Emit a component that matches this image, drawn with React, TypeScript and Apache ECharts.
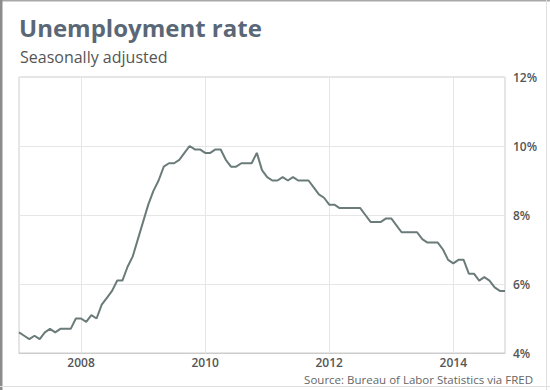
import React, { useEffect, useRef } from "react";
import * as echarts from "echarts";

const years = [2007, 2008, 2009, 2010, 2011, 2012, 2013, 2014];
const rate2007 = [4.6, 4.5, 4.4, 4.5, 4.4, 4.6, 4.7, 4.6, 4.7, 4.7, 4.7, 5.0];
const rate2008 = [5.0, 4.9, 5.1, 5.0, 5.4, 5.6, 5.8, 6.1, 6.1, 6.5, 6.8, 7.3];
const rate2009 = [7.8, 8.3, 8.7, 9.0, 9.4, 9.5, 9.5, 9.6, 9.8, 10.0, 9.9, 9.9];
const rate2010 = [9.8, 9.8, 9.9, 9.9, 9.6, 9.4, 9.4, 9.5, 9.5, 9.5, 9.8, 9.3];
const rate2011 = [9.1, 9.0, 9.0, 9.1, 9.0, 9.1, 9.0, 9.0, 9.0, 8.8, 8.6, 8.5];
const rate2012 = [8.3, 8.3, 8.2, 8.2, 8.2, 8.2, 8.2, 8.0, 7.8, 7.8, 7.8, 7.9];
const rate2013 = [7.9, 7.7, 7.5, 7.5, 7.5, 7.5, 7.3, 7.2, 7.2, 7.2, 7.0, 6.7];
const rate2014 = [6.6, 6.7, 6.7, 6.3, 6.3, 6.1, 6.2, 6.1, 5.9, 5.8, 5.8];
const yearLabels = ["2008", "2010", "2012", "2014"];

const TITLE = "Unemployment rate";
const SUBTITLE = "Seasonally adjusted";
const SOURCE = "Source: Bureau of Labor Statistics via FRED";

export default function App() {
  const ref = useRef<HTMLDivElement>(null);
  useEffect(() => {
    if (!ref.current) return;
    const chart = echarts.init(ref.current, null, { renderer: "svg" });
    const perYear = [rate2007, rate2008, rate2009, rate2010, rate2011, rate2012, rate2013, rate2014];
    const categories: string[] = [];
    const values: number[] = [];
    perYear.forEach((arr, yi) => {
      arr.forEach((v, m) => {
        categories.push(`${years[yi]}-${String(m + 1).padStart(2, "0")}`);
        values.push(v);
      });
    });
    const isLabel = (idx: number) => {
      const c = categories[idx];
      if (!c) return false;
      return c.endsWith("-01") && yearLabels.includes(c.slice(0, 4));
    };
    const font = "'Open Sans', sans-serif";
    chart.setOption({
      animation: false,
      backgroundColor: "#ffffff",
      grid: {
        left: 19,
        top: 77,
        right: 45,
        bottom: 37,
        show: true,
        borderColor: "#cccccc",
        borderWidth: 1,
        containLabel: false,
      },
      xAxis: {
        type: "category",
        data: categories,
        boundaryGap: false,
        axisLine: { show: true, lineStyle: { color: "#cccccc" } },
        axisTick: { show: false },
        axisLabel: {
          interval: (idx: number) => isLabel(idx),
          formatter: (v: string) => v.slice(0, 4),
          color: "#555555",
          fontFamily: font,
          fontSize: 12,
          fontWeight: 600,
          margin: 3,
          lineHeight: 13,
        },
        splitLine: {
          show: true,
          interval: (idx: number) => isLabel(idx),
          lineStyle: { color: "#e6e6e6", width: 1 },
        },
      },
      yAxis: {
        type: "value",
        position: "right",
        min: 4,
        max: 12,
        interval: 2,
        axisLine: { show: false },
        axisTick: { show: false },
        axisLabel: {
          formatter: "{value}%",
          color: "#555555",
          fontFamily: font,
          fontSize: 12,
          fontWeight: 600,
          margin: 8,
        },
        splitLine: { show: true, lineStyle: { color: "#e6e6e6", width: 1 } },
      },
      series: [
        {
          type: "line",
          data: values,
          symbol: "none",
          lineStyle: { color: "#6b7b7a", width: 2 },
        },
      ],
      graphic: [
        { type: "rect", shape: { x: 0, y: 0, width: 550, height: 1.5 }, style: { fill: "#a8a8a8" } },
        { type: "rect", shape: { x: 0, y: 0, width: 2.5, height: 390 }, style: { fill: "#8c8c8c" } },
        { type: "rect", shape: { x: 546, y: 0, width: 1, height: 390 }, style: { fill: "#e0e0e0" } },
        { type: "rect", shape: { x: 0, y: 386, width: 550, height: 1 }, style: { fill: "#e0e0e0" } },
        {
          type: "text",
          x: 19,
          y: 15,
          style: {
            text: TITLE,
            fontFamily: font,
            fontSize: 24,
            fontWeight: "bold",
            fill: "#5a6777",
            textVerticalAlign: "top",
          },
        },
        {
          type: "text",
          x: 20,
          y: 49,
          style: {
            text: SUBTITLE,
            fontFamily: font,
            fontSize: 16,
            fill: "#555555",
            textVerticalAlign: "top",
          },
        },
        {
          type: "text",
          x: 533,
          y: 373,
          style: {
            text: SOURCE,
            fontFamily: font,
            fontSize: 11.5,
            fill: "#666666",
            textAlign: "right",
            textVerticalAlign: "top",
          },
        },
      ],
    });
    return () => chart.dispose();
  }, []);
  return (
    <div
      ref={ref}
      style={{ position: "absolute", left: 0, top: 0, width: 550, height: 390 }}
    />
  );
}
